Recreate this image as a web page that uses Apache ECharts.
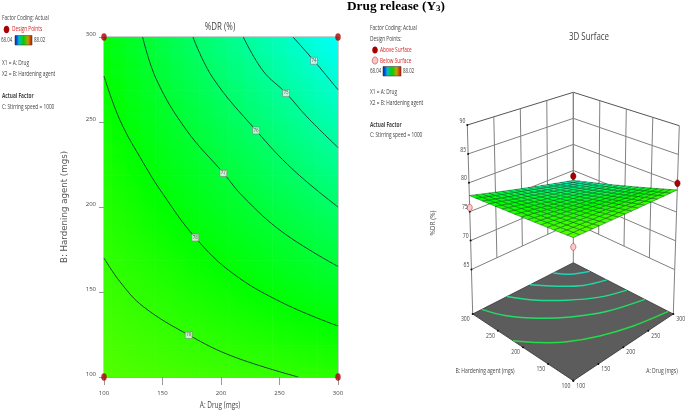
<!DOCTYPE html>
<html><head><meta charset="utf-8">
<style>html,body{margin:0;padding:0;background:#fff}#c{width:685px;height:412px;filter:blur(0.45px)}</style>
<script src="https://cdn.jsdelivr.net/npm/echarts@6/dist/echarts.min.js"></script>
</head><body><div id="c"></div>
<script>
// ---- data ----
var drugTicks = [100,150,200,250,300];
var agentTicks = [100,150,200,250,300];
var zTicks = [65,70,75,80,85,90];
var cornerPoints = [[100,100],[300,100],[100,300],[300,300]];
var contour79 = [[100,170],[113.7,156],[133.6,141.4],[172.4,124.7],[210.5,112],[266,100]];
var contour78 = [[100,277],[113.7,251],[133.6,226],[150,208],[178,182],[210,161],[253,143.5],[300,130]];
var contour77 = [[133,300],[145,274.7],[170.7,245],[202,220],[219,206],[253,185],[300,165]];
var contour76 = [[176,300],[193,276],[230,245],[261.5,222],[300,200]];
var contour75 = [[219,300],[236,280],[255.6,267],[273.5,253],[300,235]];
var contour74 = [[261.5,300],[279.5,286],[300,269]];
var contourLabels = [[172.4,124.7,79],[178,182,78],[202,220,77],[230,245,76],[255.6,267,75],[279.5,286,74]];
// %DR on a regular grid: rows agent 100..300, columns drug 100..300 (12.5 mg steps)
var gridStep = 12.5;
var drTable = [
[79.65,79.60,79.55,79.50,79.45,79.40,79.35,79.30,79.25,79.20,79.15,79.10,79.05,79.00,78.95,78.90,78.85],
[79.53,79.47,79.40,79.33,79.27,79.20,79.14,79.07,79.01,78.94,78.88,78.81,78.75,78.68,78.62,78.55,78.49],
[79.42,79.34,79.26,79.18,79.10,79.02,78.94,78.86,78.78,78.70,78.62,78.53,78.45,78.37,78.29,78.21,78.13],
[79.30,79.20,79.11,79.01,78.92,78.82,78.73,78.63,78.53,78.44,78.34,78.25,78.15,78.06,77.96,77.87,77.77],
[79.19,79.08,78.97,78.86,78.75,78.64,78.52,78.41,78.30,78.19,78.08,77.97,77.86,77.75,77.64,77.53,77.42],
[79.07,78.94,78.82,78.69,78.57,78.44,78.31,78.19,78.06,77.93,77.81,77.68,77.56,77.43,77.30,77.18,77.05],
[78.96,78.82,78.68,78.53,78.39,78.25,78.11,77.97,77.83,77.69,77.55,77.40,77.26,77.12,76.98,76.84,76.70],
[78.84,78.68,78.53,78.37,78.21,78.06,77.90,77.74,77.59,77.43,77.27,77.12,76.96,76.80,76.65,76.49,76.33],
[78.73,78.56,78.39,78.21,78.04,77.87,77.70,77.53,77.35,77.18,77.01,76.84,76.67,76.49,76.32,76.15,75.98],
[78.61,78.42,78.24,78.05,77.86,77.67,77.49,77.30,77.11,76.93,76.74,76.55,76.37,76.18,75.99,75.80,75.62],
[78.49,78.29,78.09,77.88,77.68,77.48,77.28,77.07,76.87,76.67,76.47,76.26,76.06,75.86,75.66,75.45,75.25],
[78.38,78.16,77.94,77.73,77.51,77.29,77.07,76.86,76.64,76.42,76.20,75.99,75.77,75.55,75.33,75.12,74.90],
[78.26,78.03,77.79,77.56,77.33,77.10,76.86,76.63,76.40,76.16,75.93,75.70,75.47,75.23,75.00,74.77,74.54],
[78.15,77.90,77.65,77.41,77.16,76.91,76.66,76.41,76.17,75.92,75.67,75.42,75.17,74.93,74.68,74.43,74.18],
[78.03,77.77,77.50,77.24,76.98,76.71,76.45,76.19,75.92,75.66,75.40,75.13,74.87,74.61,74.34,74.08,73.82],
[77.92,77.64,77.36,77.08,76.81,76.53,76.25,75.97,75.69,75.41,75.13,74.86,74.58,74.30,74.02,73.74,73.46],
[77.80,77.51,77.21,76.92,76.63,76.33,76.04,75.74,75.45,75.16,74.86,74.57,74.28,73.98,73.69,73.40,73.10]
];
// contour lines on the 3D floor
var floor78 = [[100,220],[125,192],[154,167],[196,143],[244,124],[300,110]];
var floor77 = [[118,300],[134,267],[165,232],[202,202],[243,177],[300,157]];
var floor76 = [[168,300],[190,270],[224,237],[262,209],[300,193]];
var floor75 = [[214,300],[239,272],[267,247],[300,233]];
var floor74 = [[260,300],[275,281],[300,267]];
var floorColors = ['#22dd44','#22dd66','#22dd88','#1fd8a4','#1fd2b8'];
var abovePoints = [[300,300,73.9],[300,100,80]];
var belowPoints = [[100,300,75.7],[100,100,78.2]];
var legendLeft = ['Factor Coding: Actual','Design Points','X1 = A: Drug','X2 = B: Hardening agent','Actual Factor','C: Stirring speed = 1000'];
var legendRight = ['Factor Coding: Actual','Design Points:','Above Surface','Below Surface','X1 = A: Drug','X2 = B: Hardening agent','Actual Factor','C: Stirring speed = 1000'];
var colorMin = 68.04, colorMax = 88.02;
var colorStops = ['#0000ff','#00ffff','#00ff00','#ffff00','#ff0000'];

// ---- 3D projection into the hidden pixel-plane axes ----
var floorZ = 57.3, topZ = 90;
var FLOOR = {f:[573.3,380.7], r:[673.3,314], l:[472.7,314], b:[573.3,262.7]};
var TOP   = {f:[573.3,171.4], r:[679.3,125.7], l:[467.3,125], b:[573.3,92.3]};
function bil(P,u,v){
  return [0,1].map(function(k){
    return P.f[k]*(1-u)*(1-v)+P.r[k]*u*(1-v)+P.l[k]*(1-u)*v+P.b[k]*u*v;});
}
function proj(A,B,z){
  var u=(A-100)/200,v=(B-100)/200,t=(z-floorZ)/(topZ-floorZ);
  var p0=bil(FLOOR,u,v),p1=bil(TOP,u,v);
  return [p0[0]+(p1[0]-p0[0])*t,p0[1]+(p1[1]-p0[1])*t];
}
var FONT='"Open Sans",sans-serif';
var TXT='#444';
var SX=0.68;

function colorOf(v){ return echarts.color.lerp((v-colorMin)/(colorMax-colorMin),colorStops); }
function cornerValue(i,j){ // value at a cell corner: mean of the table nodes around it
  var s=0,n=0;
  [[i,j],[i-1,j],[i,j-1],[i-1,j-1]].forEach(function(p){
    var r=drTable[p[1]];
    if(r&&r[p[0]]!==undefined){s+=r[p[0]];n++;}
  });
  return s/n;
}

// wall segments
var walls=[];
zTicks.forEach(function(z){
  walls.push([100,300,z,300,300,z]);
  walls.push([300,300,z,300,100,z]);
});
agentTicks.forEach(function(b){ walls.push([300,b,65,300,b,90]); });
drugTicks.forEach(function(a){ walls.push([a,300,65,a,300,90]); });
walls.push([100,300,floorZ,100,300,65]);
walls.push([300,300,floorZ,300,300,65]);
walls.push([300,100,floorZ,300,100,65]);

var heatData=[],surfData=[];
drTable.forEach(function(row,j){row.forEach(function(v,i){
  heatData.push([100+i*gridStep,100+j*gridStep,v,i,j]);
  if(i<row.length-1&&j<drTable.length-1) surfData.push([i,j,v]);
});});

function poly3(api,pts,style){
  return {type:'polygon',shape:{points:pts.map(function(p){return api.coord(proj(p[0],p[1],p[2]));})},style:style};
}
function line3(pts,color,width,smooth){
  return {
    type:'custom',xAxisIndex:1,yAxisIndex:1,coordinateSystem:'cartesian2d',clip:false,silent:true,
    data:[0],
    renderItem:function(params,api){
      return {type:'polyline',shape:{smooth:smooth||0,points:pts.map(function(p){return api.coord(proj(p[0],p[1],floorZ));})},
        style:{fill:'none',stroke:color,lineWidth:width}};
    }
  };
}
function contourSeries(d){
  return {type:'line',xAxisIndex:0,yAxisIndex:0,data:d,smooth:0.4,showSymbol:false,silent:true,
    lineStyle:{color:'#1a4a30',width:1},z:3};
}
function tickText(vals,fn,align){
  return {type:'custom',xAxisIndex:1,yAxisIndex:1,clip:false,silent:true,data:vals.map(function(v){return [v];}),z:6,
    renderItem:function(params,api){
      var v=api.value(0),p=fn(v),c=api.coord(proj(p[0],p[1],p[2]));
      return {type:'text',x:c[0]+p[3],y:c[1]+p[4],scaleX:SX,style:{text:String(v),fill:TXT,font:'7.5px '+FONT,textAlign:align,textVerticalAlign:'middle'}};
    }};
}
function dots3(pts,fill,stroke){
  return {type:'custom',xAxisIndex:1,yAxisIndex:1,clip:false,silent:true,data:pts,z:5,
    renderItem:function(params,api){
      var c=api.coord(proj(api.value(0),api.value(1),api.value(2)));
      return {type:'ellipse',shape:{cx:c[0],cy:c[1],rx:2.6,ry:3.4},style:{fill:fill,stroke:stroke,lineWidth:.6}};
    }};
}

var series=[
  // contour-plot colour field
  {type:'custom',xAxisIndex:0,yAxisIndex:0,data:heatData,clip:true,silent:true,z:1,encode:{x:0,y:1},
   renderItem:function(params,api){
     var a=api.value(0),b=api.value(1),i=api.value(3),j=api.value(4);
     var p0=api.coord([a-gridStep/2,b+gridStep/2]),p1=api.coord([a+gridStep/2,b-gridStep/2]);
     var fill={type:'linear',x:0,y:1,x2:1,y2:0,colorStops:[
       {offset:0,color:colorOf(cornerValue(i,j))},
       {offset:.5,color:colorOf(api.value(2))},
       {offset:1,color:colorOf(cornerValue(i+1,j+1))}]};
     return {type:'rect',shape:{x:p0[0],y:p0[1],width:p1[0]-p0[0]+.6,height:p1[1]-p0[1]+.6},style:{fill:fill}};
   }},
  contourSeries(contour79),contourSeries(contour78),contourSeries(contour77),
  contourSeries(contour76),contourSeries(contour75),contourSeries(contour74),
  {type:'scatter',xAxisIndex:0,yAxisIndex:0,data:contourLabels,symbol:'rect',symbolSize:7,silent:true,z:4,
   itemStyle:{color:'#f4f4f4',borderColor:'#777',borderWidth:.7},
   label:{show:true,position:'inside',fontSize:4.5,color:'#333',fontFamily:FONT,formatter:function(p){return p.value[2];}}},
  {type:'scatter',xAxisIndex:0,yAxisIndex:0,data:cornerPoints,symbol:'circle',symbolSize:[5.5,7.5],silent:true,clip:false,z:5,
   itemStyle:{color:'#a80000'}},
  // 3D walls
  {type:'custom',xAxisIndex:1,yAxisIndex:1,clip:false,silent:true,data:walls,z:1,
   renderItem:function(params,api){
     var a=api.coord(proj(api.value(0),api.value(1),api.value(2))),
         b=api.coord(proj(api.value(3),api.value(4),api.value(5)));
     var top=api.value(2)===90&&api.value(5)===90;
     return {type:'line',shape:{x1:a[0],y1:a[1],x2:b[0],y2:b[1]},style:{stroke:top?'#555':'#808080',lineWidth:1}};
   }},
  // 3D floor
  {type:'custom',xAxisIndex:1,yAxisIndex:1,clip:false,silent:true,data:[0],z:1,
   renderItem:function(params,api){
     return poly3(api,[[100,100,floorZ],[300,100,floorZ],[300,300,floorZ],[100,300,floorZ]],{fill:'#5c5c5c',stroke:'#333',lineWidth:.8});
   }},
  line3(floor78,floorColors[0],1.5,.35),line3(floor77,floorColors[1],1.5,.35),line3(floor76,floorColors[2],1.5,.35),
  line3(floor75,floorColors[3],1.5,.35),line3(floor74,floorColors[4],1.5,.35),
  // 3D surface
  {type:'custom',xAxisIndex:1,yAxisIndex:1,clip:false,silent:true,data:surfData,z:3,encode:{x:0,y:1},
   renderItem:function(params,api){
     var i=api.value(0),j=api.value(1),t=drTable;
     var col=api.visual('color');
     var A=function(k){return 100+k*gridStep;};
     return poly3(api,[[A(i),A(j),t[j][i]],[A(i+1),A(j),t[j][i+1]],[A(i+1),A(j+1),t[j+1][i+1]],[A(i),A(j+1),t[j+1][i]]],
       {fill:col,stroke:'#0a4a14',lineWidth:.45});
   }},
  dots3(abovePoints,'#a80000','#700000'),
  dots3(belowPoints,'#fbc8c8','#b04040'),
  // 3D tick labels
  tickText(zTicks,function(v){return [100,300,v,-2,-4.5];},'right'),
  tickText(agentTicks,function(v){return [100,v,floorZ,-3,5];},'right'),
  tickText(drugTicks,function(v){return [v,100,floorZ,3,5];},'left'),
  // 3D tick dots
  {type:'custom',xAxisIndex:1,yAxisIndex:1,clip:false,silent:true,data:zTicks.map(function(z){return [100,300,z];})
     .concat(agentTicks.map(function(b){return [100,b,floorZ];})).concat(drugTicks.map(function(a){return [a,100,floorZ];})),z:4,
   renderItem:function(params,api){
     var c=api.coord(proj(api.value(0),api.value(1),api.value(2)));
     return {type:'circle',shape:{cx:c[0],cy:c[1],r:1},style:{fill:'#111'}};
   }}
];
var surfIdx=series.findIndex(function(s){return s.data===surfData;});

function T(text,x,y,o){
  o=o||{};
  return {type:'text',x:x,y:y,rotation:o.rot||0,scaleX:o.sx||SX,silent:true,
    style:{text:text,fill:o.fill||TXT,font:(o.weight||'')+' '+(o.size||7)+'px '+(o.family||FONT),
      textAlign:o.align||'left',textVerticalAlign:'middle'}};
}
var RED='#d62020';
var bar={type:'linear',x:0,y:0,x2:1,y2:0,colorStops:[{offset:0,color:'#0000e0'},{offset:.25,color:'#00c0c0'},{offset:.5,color:'#00d000'},{offset:.75,color:'#c0a000'},{offset:1,color:'#d00000'}]};
var graphics=[
  T(legendLeft[0],2,18), T(legendLeft[1],12,29,{fill:RED}),
  {type:'ellipse',shape:{cx:6.5,cy:29.5,rx:2.8,ry:3.8},style:{fill:'#a80000'},silent:true},
  T(colorMin.toFixed(2),1,40,{size:6.5}),
  {type:'rect',shape:{x:15,y:35.5,width:17,height:9.5},style:{fill:bar,stroke:'#444',lineWidth:.6},silent:true},
  T(colorMax.toFixed(2),34,40,{size:6.5}),
  T(legendLeft[2],2,63), T(legendLeft[3],2,74),
  T(legendLeft[4],2,96,{weight:'bold'}), T(legendLeft[5],2,107),
  T(legendRight[0],370,28), T(legendRight[1],370,39),
  {type:'ellipse',shape:{cx:375,cy:50,rx:2.8,ry:3.6},style:{fill:'#a80000'},silent:true},
  T(legendRight[2],380,50,{fill:RED}),
  {type:'ellipse',shape:{cx:375,cy:60.5,rx:2.8,ry:3.6},style:{fill:'#fbc8c8',stroke:'#b04040',lineWidth:.6},silent:true},
  T(legendRight[3],380,60.5,{fill:RED}),
  T(colorMin.toFixed(2),370,71,{size:6.5}),
  {type:'rect',shape:{x:383,y:66.5,width:18,height:9.5},style:{fill:bar,stroke:'#444',lineWidth:.6},silent:true},
  T(colorMax.toFixed(2),403,71,{size:6.5}),
  T(legendRight[4],370,92), T(legendRight[5],370,103),
  T(legendRight[6],370,124.6,{weight:'bold'}), T(legendRight[7],370,135),
  T('%DR (%)',220,27,{size:11,align:'center',sx:.72}),
  T('3D Surface',589,37,{size:11,align:'center',sx:.72}),
  T('A: Drug (mgs)',220,405,{size:9,align:'center',sx:.72}),
  T('B: Hardening agent (mgs)',65,207,{size:8,align:'center',rot:Math.PI/2,sx:1.08,fill:'#555',family:'"DejaVu Sans",sans-serif'}),
  T('%DR (%)',433,223,{size:6.5,align:'center',rot:Math.PI/2,sx:1}),
  T('B: Hardening agent (mgs)',485,371,{size:7,align:'center',sx:.72}),
  T('A: Drug (mgs)',662,371,{size:7,align:'center',sx:.72})
];

var chart=echarts.init(document.getElementById('c'),null,{renderer:'canvas'});
chart.setOption({
  animation:false,
  backgroundColor:'#fff',
  title:{text:'{a|Drug release (Y}{b|3}{a|)}',left:347,top:0,padding:0,
    textStyle:{rich:{a:{fontFamily:'"Liberation Serif",serif',fontWeight:'bold',fontSize:13.3,color:'#000'},
      b:{fontFamily:'"Liberation Serif",serif',fontWeight:'bold',fontSize:9,color:'#000',verticalAlign:'bottom',padding:[3,0,0,0]}}}},
  grid:[
    {left:104,top:37,width:234,height:340,show:true,borderColor:'#999',borderWidth:1,backgroundColor:'transparent'},
    {left:0,top:0,width:685,height:412,show:false}
  ],
  xAxis:[
    {type:'value',gridIndex:0,min:100,max:300,interval:50,splitLine:{show:false},
     axisLine:{show:true,lineStyle:{color:'#999',width:1.5}},axisTick:{length:8,lineStyle:{color:'#999'}},
     axisLabel:{color:TXT,fontSize:6,fontFamily:FONT,margin:13,showMinLabel:true,showMaxLabel:true}},
    {type:'value',gridIndex:1,min:0,max:685,show:false}
  ],
  yAxis:[
    {type:'value',gridIndex:0,min:100,max:300,interval:50,splitLine:{show:false},
     axisLine:{show:true,lineStyle:{color:'#999',width:1}},axisTick:{length:5,lineStyle:{color:'#999'}},
     axisLabel:{color:TXT,fontSize:6,fontFamily:FONT,margin:8,verticalAlign:'bottom',showMinLabel:true,showMaxLabel:true}},
    {type:'value',gridIndex:1,min:0,max:412,inverse:true,show:false}
  ],
  visualMap:{show:false,type:'continuous',min:colorMin,max:colorMax,dimension:2,seriesIndex:[surfIdx],
    inRange:{color:colorStops}},
  graphic:graphics,
  series:series
});
</script></body></html>
